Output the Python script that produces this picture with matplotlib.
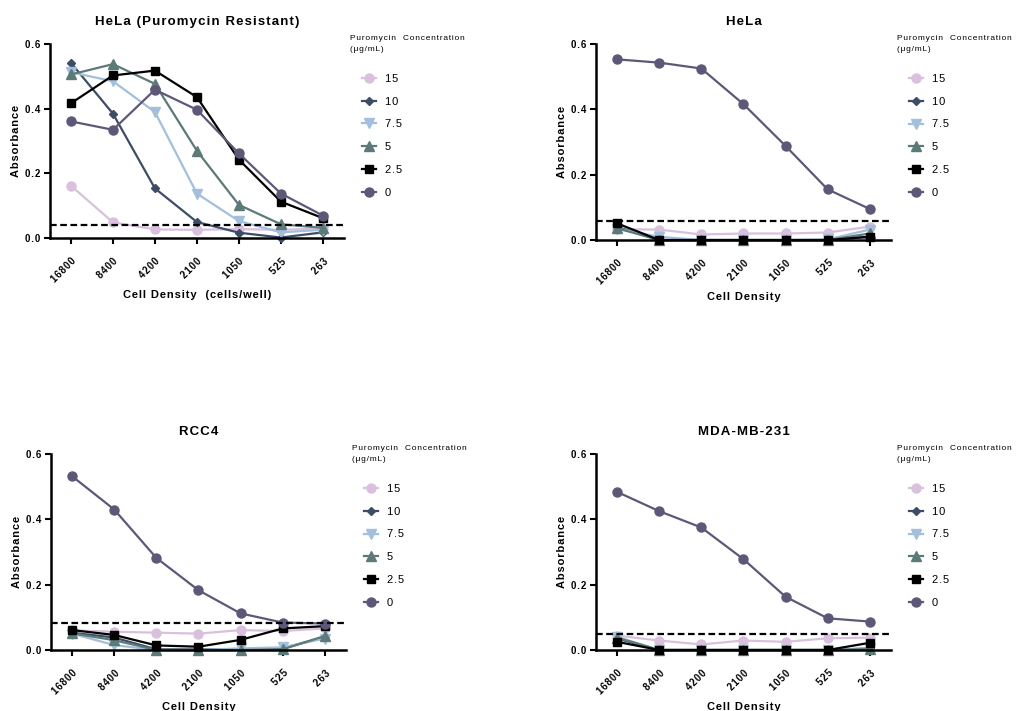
import numpy as np
import matplotlib.pyplot as plt

plt.rcParams['font.family'] = ['Liberation Sans', 'DejaVu Sans']

densities = ["16800", "8400", "4200", "2100", "1050", "525", "263"]
conc_labels = ["15", "10", "7.5", "5", "2.5", "0"]

# absorbance per puromycin concentration, in the order of conc_labels
hela_res = [
    [0.162, 0.049, 0.027, 0.026, 0.028, 0.026, 0.030],
    [0.542, 0.385, 0.154, 0.050, 0.017, 0.002, 0.018],
    [0.513, 0.485, 0.390, 0.138, 0.053, 0.018, 0.026],
    [0.506, 0.538, 0.477, 0.270, 0.103, 0.043, 0.032],
    [0.417, 0.503, 0.518, 0.436, 0.243, 0.113, 0.062],
    [0.361, 0.335, 0.459, 0.397, 0.262, 0.138, 0.070],
]
hela = [
    [0.033, 0.032, 0.017, 0.020, 0.020, 0.023, 0.041],
    [0.040, 0.000, 0.000, 0.000, 0.000, 0.000, 0.010],
    [0.035, 0.010, 0.000, 0.000, 0.000, 0.002, 0.032],
    [0.036, 0.000, 0.000, 0.000, 0.000, 0.000, 0.020],
    [0.051, 0.000, 0.000, 0.000, 0.000, 0.000, 0.010],
    [0.553, 0.543, 0.525, 0.416, 0.288, 0.155, 0.095],
]
rcc4 = [
    [0.060, 0.056, 0.053, 0.050, 0.061, 0.058, 0.066],
    [0.053, 0.038, 0.002, 0.002, 0.002, 0.005, 0.040],
    [0.050, 0.015, 0.000, 0.000, 0.005, 0.008, 0.035],
    [0.051, 0.030, 0.000, 0.000, 0.000, 0.002, 0.043],
    [0.061, 0.046, 0.014, 0.010, 0.031, 0.066, 0.073],
    [0.532, 0.430, 0.282, 0.183, 0.112, 0.084, 0.081],
]
mda = [
    [0.044, 0.029, 0.017, 0.029, 0.025, 0.036, 0.038],
    [0.035, 0.000, 0.000, 0.000, 0.000, 0.000, 0.005],
    [0.040, 0.000, 0.000, 0.000, 0.000, 0.000, 0.005],
    [0.038, 0.000, 0.000, 0.000, 0.000, 0.000, 0.003],
    [0.025, 0.000, 0.000, 0.000, 0.000, 0.000, 0.022],
    [0.484, 0.425, 0.375, 0.278, 0.163, 0.097, 0.087],
]
# background cutoff drawn as dashed line
cutoffs = [0.040, 0.058, 0.082, 0.049]
titles = ["HeLa (Puromycin Resistant)", "HeLa", "RCC4", "MDA-MB-231"]
xlabels = ["Cell Density  (cells/well)", "Cell Density", "Cell Density", "Cell Density"]
yticks = [0.0, 0.2, 0.4, 0.6]

colors = ["#d9c0dd", "#3d4d66", "#a3bfdc", "#5c7a78", "#000000", "#5e5878"]
markers = ["o", "D", "v", "^", "s", "o"]
msizes = [6.5, 4.5, 6.5, 6.5, 6, 6.5]


def spaced(s):
    # prism-style tracking: hair space between letters
    return "\u200a".join(s)


fig = plt.figure(figsize=(10.24, 7.11), dpi=100)
rects = [
    [0.0488, 0.665, 0.287, 0.273],
    [0.582, 0.6624, 0.288, 0.2757],
    [0.0498, 0.0858, 0.288, 0.2757],
    [0.582, 0.0858, 0.288, 0.2757],
]
panels = [hela_res, hela, rcc4, mda]

x = np.arange(len(densities))
for rect, data, cut, title, xl in zip(rects, panels, cutoffs, titles, xlabels):
    ax = fig.add_axes(rect)
    for ys, c, m, ms, lab in zip(data, colors, markers, msizes, conc_labels):
        ax.plot(x, ys, color=c, marker=m, markersize=ms, lw=1.6,
                label=spaced(lab), clip_on=False)
    ax.axhline(cut, color="black", lw=1.6, ls=(0, (3, 1.6)), clip_on=False)

    ax.set_xlim(-0.5, 6.5)
    ax.set_ylim(0, 0.6)
    ax.set_yticks(yticks)
    ax.set_yticklabels([spaced(f"{v:.1f}") for v in yticks])
    ax.set_xticks(x)
    ax.set_xticklabels([spaced(d) for d in densities], rotation=45, ha="right",
                       rotation_mode="anchor")
    for lbl in ax.get_xticklabels() + ax.get_yticklabels():
        lbl.set_fontweight("bold")
        lbl.set_fontsize(7)
    ax.tick_params(width=1.5, length=4, direction="out")
    ax.tick_params(axis="x", pad=9)
    ax.tick_params(axis="y", pad=3)
    for s in ["top", "right"]:
        ax.spines[s].set_visible(False)
    for s in ["left", "bottom"]:
        ax.spines[s].set_linewidth(1.8)

    ax.set_title(spaced(title), fontsize=9.5, fontweight="bold", pad=14)
    ax.set_ylabel(spaced("Absorbance"), fontsize=8, fontweight="bold", labelpad=3)
    ax.set_xlabel(spaced(xl), fontsize=8, fontweight="bold", labelpad=4)

    ax.text(1.02, 1.045, spaced("Puromycin  Concentration") + "\n" + spaced("(\u03bcg/mL)"),
            transform=ax.transAxes, fontsize=6, va="top", ha="left", linespacing=1.7)
    ax.legend(loc="upper left", bbox_to_anchor=(1.045, 0.87), frameon=False,
              fontsize=8, handlelength=1.3, handletextpad=0.8, labelspacing=1.15,
              borderaxespad=0)

fig.savefig("out.png", dpi=100)
